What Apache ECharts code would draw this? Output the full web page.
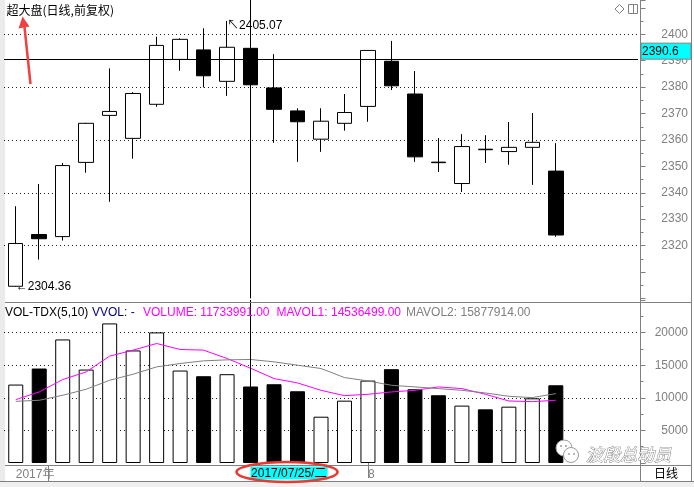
<!DOCTYPE html>
<html><head><meta charset="utf-8">
<script src="https://cdn.jsdelivr.net/npm/echarts@6/dist/echarts.min.js"></script>
<style>html,body{margin:0;padding:0;background:#fff;overflow:hidden}#c{width:694px;height:487px}</style>
</head><body><div id="c"></div>
<script>
// ---- data ----
const dates = ['2017/07/11','2017/07/12','2017/07/13','2017/07/14','2017/07/17','2017/07/18','2017/07/19','2017/07/20','2017/07/21','2017/07/24','2017/07/25','2017/07/26','2017/07/27','2017/07/28','2017/07/31','2017/08/01','2017/08/02','2017/08/03','2017/08/04','2017/08/07','2017/08/08','2017/08/09','2017/08/10','2017/08/11'];
const padSlots = ['', ' ', '  '];
const opens  = [2304.6,2324.2,2323.4,2351.5,2369.3,2360.6,2373.5,2390.5,2394.1,2382.2,2394.7,2379.7,2371.0,2360.3,2366.3,2372.7,2389.8,2377.4,2351.6,2343.5,2356.5,2355.6,2357.2,2348.2];
const closes = [2320.8,2322.6,2350.3,2366.3,2370.8,2377.6,2395.8,2398.1,2384.3,2395.1,2380.9,2371.6,2366.9,2367.1,2370.4,2393.9,2380.5,2353.6,2351.4,2357.5,2356.3,2357.2,2359.1,2324.0];
const lows   = [2304.36,2314.7,2321.9,2347.6,2336.6,2352.9,2372.6,2386.2,2379.9,2376.7,2377.0,2358.9,2351.7,2355.5,2363.5,2366.9,2378.9,2351.7,2347.9,2340.3,2351.3,2350.6,2343.0,2323.3];
const highs  = [2334.9,2343.3,2351.3,2366.5,2387.1,2378.1,2399.1,2398.5,2402.3,2405.07,2399.5,2392.5,2372.0,2372.0,2377.4,2394.0,2397.5,2386.1,2360.7,2362.2,2361.8,2366.8,2370.2,2358.8];
const volumes = [12030,14490,18950,14330,21410,17260,20030,14180,13310,13620,11734,12080,11000,7100,9560,12640,14390,11310,10390,8800,8230,8640,9920,11920];
const mavol1 = [9720,10900,12800,13970,16390,17310,18330,17410,17310,16030,14536,12950,12280,11150,10330,10540,10900,11150,11670,11410,10540,9510,9410,9620];
const mavol2 = [9460,9620,10390,11310,12690,13620,14740,15260,15670,15820,15878,15510,15000,14490,13100,12590,11920,11670,11410,11150,10740,10230,10030,10640];
const priceGridVals = [2320,2340,2360,2380,2400];
const volGridVals = [5000,10000,15000,20000];
const priceLabelRange = [2320, 2400];
const volLabelRange = [5000, 20000];
const crossIdx = 10;
const crossPrice = 2390.6;
const titleText = '超大盘(日线,前复权)';
const legendTexts = ['VOL-TDX(5,10)','VVOL: -','VOLUME: 11733991.00','MAVOL1: 14536499.00','MAVOL2: 15877914.00'];
const weekdayText = '二';
const periodText = '日线';

// ---- derived ----
const categories = dates.concat(padSlots);
const candleData = dates.map((d,i)=>[opens[i], closes[i], lows[i], highs[i]]);
const volData = volumes.map((v,i)=>({
  value: v,
  itemStyle: closes[i] >= opens[i]
    ? {color:'#ffffff', borderColor:'#000', borderWidth:1}
    : {color:'#000000', borderColor:'#000', borderWidth:1}
}));
const hiIdx = highs.indexOf(Math.max.apply(null, highs));
const loIdx = lows.indexOf(Math.min.apply(null, lows));
const monthIdx = dates.findIndex(d => d.slice(5,7) !== dates[0].slice(5,7));
const FONT = '"Liberation Sans", Arial, "Noto Sans CJK SC", sans-serif';
const DOT_STYLE = {color:'#202020', type:[1,3], width:1};

const chart = echarts.init(document.getElementById('c'), null, {renderer:'canvas'});
const option = {
  animation: false,
  backgroundColor: '#ffffff',
  textStyle: {fontFamily: FONT},
  grid: [
    {left: 4, top: 0, width: 634, height: 298.4},
    {left: 4, top: 300, width: 634, height: 163}
  ],
  xAxis: [
    {type:'category', gridIndex:0, data:categories, boundaryGap:true,
     axisLine:{show:false}, axisTick:{show:false}, axisLabel:{show:false}, splitLine:{show:false}},
    {type:'category', gridIndex:1, data:categories, boundaryGap:true,
     axisLine:{show:false},
     axisTick:{show:true, alignWithLabel:true, interval:(i)=> i===monthIdx, length:15, lineStyle:{color:'#808080'}},
     axisLabel:{show:true, interval:(i)=> i===0 || i===monthIdx,
       formatter:(v,i)=> i===0 ? dates[0].slice(0,4)+'年' : (i===monthIdx ? String(parseInt(dates[monthIdx].slice(5,7),10)) : ''),
       align:'left', margin:6, color:'#808080', fontSize:12, fontFamily:FONT},
     splitLine:{show:false}}
  ],
  yAxis: [
    {type:'value', gridIndex:0, position:'right', offset:2.5, min:2300, max:2413, interval:10,
     axisLine:{show:false},
     axisTick:{show:true, length:5, lineStyle:{color:'#808080'}},
     minorTick:{show:true, splitNumber:2, length:3, lineStyle:{color:'#808080'}},
     axisLabel:{margin:47.5, align:'right', color:'#808080', fontSize:12, fontFamily:FONT,
       formatter:(v)=> (v>=priceLabelRange[0] && v<=priceLabelRange[1] && v%10===0) ? String(v) : ''},
     splitLine:{show:false}, minorSplitLine:{show:false}},
    {type:'value', gridIndex:1, position:'right', offset:2.5, min:0, max:25000, interval:5000,
     axisLine:{show:false},
     axisTick:{show:true, length:5, lineStyle:{color:'#808080'}},
     minorTick:{show:true, splitNumber:2, length:3, lineStyle:{color:'#808080'}},
     axisLabel:{margin:47.5, align:'right', color:'#808080', fontSize:12, fontFamily:FONT,
       formatter:(v)=> (v>=volLabelRange[0] && v<=volLabelRange[1]) ? String(v) : ''},
     splitLine:{show:false}, minorSplitLine:{show:false}}
  ],
  series: [
    {type:'candlestick', xAxisIndex:0, yAxisIndex:0, data:candleData, barWidth:15, z:3,
     itemStyle:{color:'#ffffff', color0:'#000000', borderColor:'#000000', borderColor0:'#000000', borderColorDoji:'#000000', borderWidth:1},
     markPoint:{silent:true, symbol:'circle', symbolSize:0,
       label:{show:true, position:'right', distance:0, color:'#000', fontSize:12, fontFamily:FONT},
       data:[
         {coord:[dates[hiIdx], highs[hiIdx]], label:{formatter:'↖'+highs[hiIdx].toFixed(2), offset:[0,5]}},
         {coord:[dates[loIdx], lows[loIdx]], label:{formatter:'←'+lows[loIdx].toFixed(2), offset:[0,0]}}
       ]}
    },
    {type:'line', xAxisIndex:0, yAxisIndex:0, data:[], symbol:'none', z:1,
     markLine:{z:1, silent:true, symbol:['none','none'], label:{show:false}, emphasis:{disabled:true},
       lineStyle:DOT_STYLE,
       data: priceGridVals.map(v=>({yAxis:v, lineStyle:DOT_STYLE}))}},
    {type:'line', xAxisIndex:0, yAxisIndex:0, data:[], symbol:'none',
     markLine:{silent:true, symbol:['none','none'], label:{show:false}, emphasis:{disabled:true},
       lineStyle:{color:'#000', type:'solid', width:1},
       data:[{yAxis:crossPrice},{xAxis:dates[crossIdx]}]}},
    {type:'bar', xAxisIndex:1, yAxisIndex:1, data:volData, barWidth:15, z:3},
    {type:'line', xAxisIndex:1, yAxisIndex:1, data:[], symbol:'none', z:1,
     markLine:{z:1, silent:true, symbol:['none','none'], label:{show:false}, emphasis:{disabled:true},
       lineStyle:DOT_STYLE,
       data: volGridVals.map(v=>({yAxis:v, lineStyle:DOT_STYLE}))}},
    {type:'line', xAxisIndex:1, yAxisIndex:1, data:mavol1, symbol:'none', showSymbol:false, z:4,
     lineStyle:{color:'#ff00ff', width:1}, itemStyle:{color:'#ff00ff'},
     markLine:{silent:true, symbol:['none','none'], label:{show:false}, emphasis:{disabled:true},
       lineStyle:{color:'#000', type:'solid', width:1},
       data:[{xAxis:dates[crossIdx]}]}},
    {type:'line', xAxisIndex:1, yAxisIndex:1, data:mavol2, symbol:'none', showSymbol:false, z:4,
     lineStyle:{color:'#808080', width:1}, itemStyle:{color:'#808080'}}
  ]
};
chart.setOption(option);

const yCross = chart.convertToPixel({yAxisIndex:0}, crossPrice);
const xCross = chart.convertToPixel({xAxisIndex:0}, dates[crossIdx]);
const G = '#808080';
function hline(y,x1,x2,c){return {type:'line', z:100, shape:{x1:x1,y1:y,x2:x2,y2:y}, style:{stroke:c||G, lineWidth:1}};}
function vline(x,y1,y2,c){return {type:'line', z:100, shape:{x1:x,y1:y1,x2:x,y2:y2}, style:{stroke:c||G, lineWidth:1}};}
function txt(x,y,t,opt){return {type:'text', z:101, x:x, y:y, style:Object.assign({text:t, font:'12px '+FONT, fill:'#000', verticalAlign:'middle', align:'left'}, opt||{})};}

const legendX = [5, 92, 143, 276.5, 406];
const legendColors = ['#000000','#000080','#ff00ff','#ff00ff','#808080'];
const dateLabel = dates[crossIdx] + '/' + weekdayText;

const graphics = [
  {type:'rect', z:-1, shape:{x:0,y:0,width:5,height:487}, style:{fill:'#ebebeb'}},
  vline(640.5, 0, 481.5),
  vline(691.5, 0, 481.5),
  hline(302.5, 5, 691.5),
  hline(465.5, 5, 691.5),
  hline(481.5, 0, 694),
  {type:'rect', z:99, shape:{x:0,y:482,width:694,height:5}, style:{fill:'#f0f0f0'}},
  vline(48.5, 466, 481),
  txt(666, 473.5, periodText, {align:'center', font:'12px "Noto Sans CJK SC", sans-serif'}),
  {type:'rect', z:100, shape:{x:641, y:yCross-16, width:50, height:16}, style:{fill:'#00ffff', stroke:G, lineWidth:1}},
  txt(642, yCross-7.5, crossPrice.toFixed(1), {font:'12px '+FONT}),
  {type:'rect', z:100, shape:{x:xCross, y:466.5, width:77, height:13}, style:{fill:'#00ffff'}},
  txt(xCross+0.5, 473.5, dateLabel, {font:'12px '+FONT}),
  {type:'ellipse', z:102, shape:{cx:xCross+36.5, cy:472, rx:50.5, ry:10}, style:{fill:null, stroke:'#e83a30', lineWidth:2.5}},
  txt(6.5, 10.5, titleText, {font:'12px "Noto Sans CJK SC", sans-serif'}),
  {type:'polygon', z:100, shape:{points:[[619.5,4.5],[624,9],[619.5,13.5],[615,9]]}, style:{fill:null, stroke:G, lineWidth:1}},
  {type:'rect', z:100, shape:{x:628.5,y:4.5,width:9,height:9}, style:{fill:null, stroke:G, lineWidth:1}},
  vline(633.5, 4.5, 13.5),
  {type:'polyline', z:102, shape:{points:[[30.5,84],[24.5,27]]}, style:{stroke:'#f04040', lineWidth:2.5}},
  {type:'polygon', z:102, shape:{points:[[18.5,28.5],[29.5,26.5],[22.5,16.5]]}, style:{fill:'#f04040'}},
  {type:'circle', z:103, shape:{cx:564,cy:448,r:8}, style:{fill:'#ffffff', stroke:'#9a9a9a', lineWidth:1}},
  {type:'circle', z:104, shape:{cx:571,cy:455,r:7.5}, style:{fill:'#ffffff', stroke:'#9a9a9a', lineWidth:1}},
  {type:'circle', z:105, shape:{cx:561,cy:446,r:1}, style:{fill:'#9a9a9a'}},
  {type:'circle', z:105, shape:{cx:566,cy:446,r:1}, style:{fill:'#9a9a9a'}},
  {type:'circle', z:105, shape:{cx:569,cy:454,r:0.9}, style:{fill:'#9a9a9a'}},
  {type:'circle', z:105, shape:{cx:574,cy:454,r:0.9}, style:{fill:'#9a9a9a'}},
  {type:'text', z:105, x:586, y:455, style:{text:'波段总动员', font:'italic 17px "Noto Sans CJK SC", sans-serif', fill:'#ffffff', stroke:'#8c8c8c', lineWidth:1, verticalAlign:'middle'}}
];
legendTexts.forEach((t,i)=>{ graphics.push(txt(legendX[i], 312.5, t, {fill:legendColors[i]})); });
chart.setOption({graphic: graphics});
</script>
</body></html>
